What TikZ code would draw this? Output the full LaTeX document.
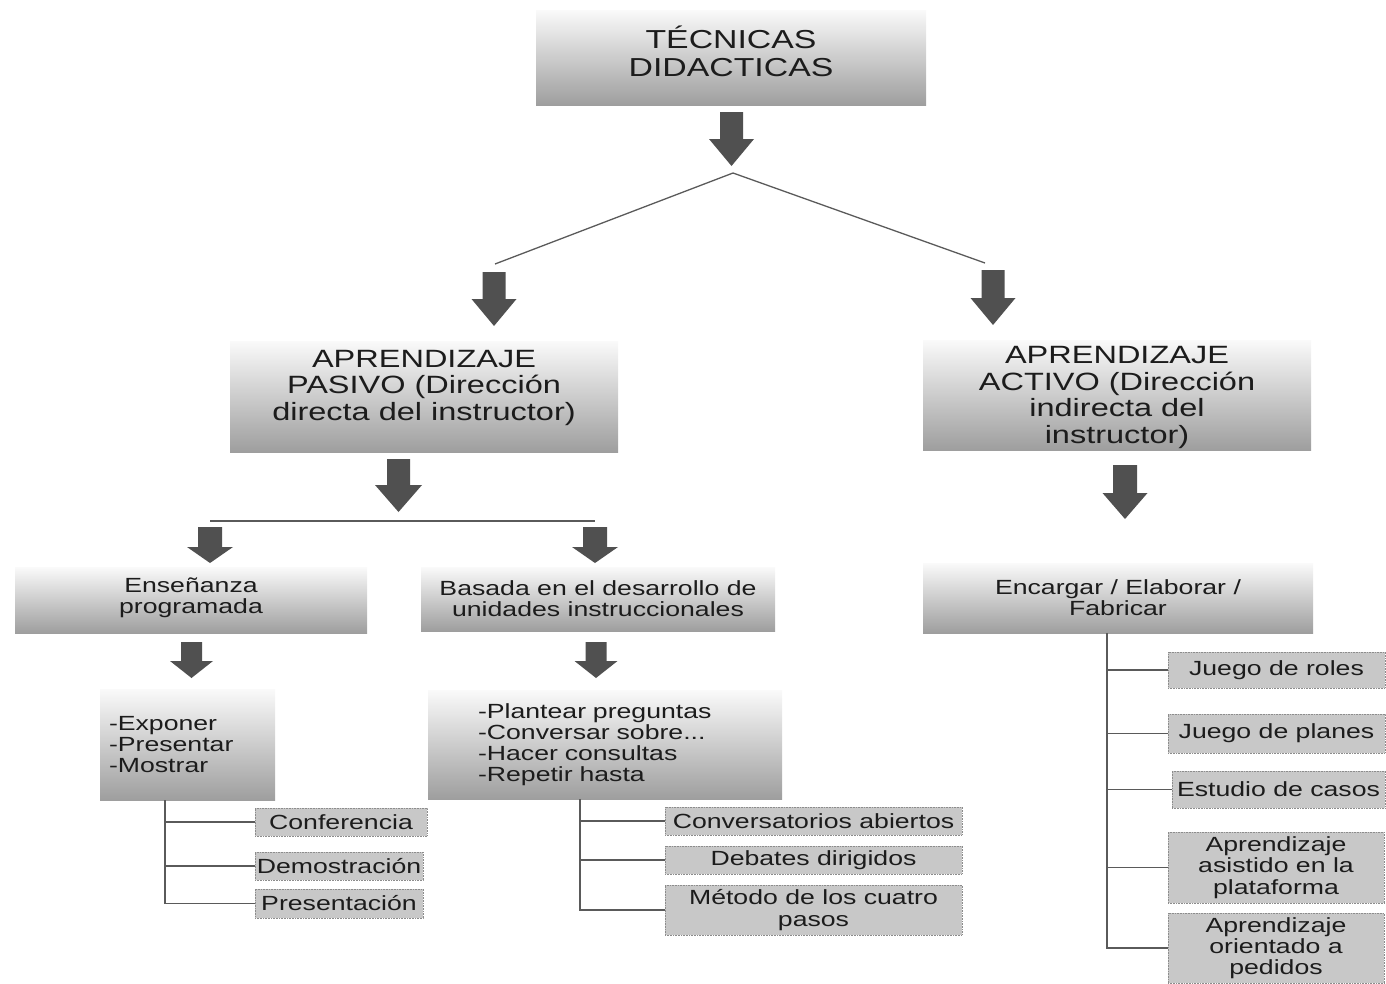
\documentclass[tikz,border=0pt]{standalone}
\usepackage{fontspec}
\setmainfont[FakeStretch=1.3]{Liberation Sans}
\definecolor{txtc}{HTML}{1C1C1C}
\definecolor{arrowc}{HTML}{505050}
\definecolor{leafc}{HTML}{C8C8C8}
\definecolor{linec}{HTML}{5A5A5A}
\newcommand\fontTitle{\fontsize{26}{28}\selectfont}
\newcommand\fontMid{\fontsize{25}{26.5}\selectfont}
\newcommand\fontSmall{\fontsize{20.5}{21.2}\selectfont}
% block arrow: name, cx, top, shaft width, head width, head top, tip
\newcommand\blockarrow[7]{%
  \fill[arrowc] ({#2-#4/2},#3) -- ({#2+#4/2},#3) -- ({#2+#4/2},#6) -- ({#2+#5/2},#6)
    -- (#2,#7) coordinate (#1) -- ({#2-#5/2},#6) -- ({#2-#4/2},#6) -- cycle;}
\begin{document}
\begin{tikzpicture}[x=1pt,y=-1pt,
  mainbox/.style={rectangle, inner sep=0pt, top color=black!2, bottom color=black!38,
    text=txtc, align=center},
  leaf/.style={rectangle, inner sep=0pt, fill=leafc, draw=black!45, densely dotted,
    line width=0.6pt, text=txtc, align=center, font=\fontSmall},
  conn/.style={draw=linec, line width=1.3pt},
  tree/.style={draw=linec, line width=1.3pt},
]
\useasboundingbox (0,0) rectangle (1386,983);

% main boxes
\node[mainbox, minimum width=390pt, minimum height=95pt, font=\fontTitle] (top) at (731,57.5)
  {\begin{tabular}{@{}c@{}}TÉCNICAS\\DIDACTICAS\\[5pt]\end{tabular}};
\node[mainbox, minimum width=388pt, minimum height=111pt, font=\fontMid] (pasivo) at (424,396.5)
  {\begin{tabular}{@{}c@{}}APRENDIZAJE\\PASIVO (Dirección\\directa del instructor)\\[16pt]\end{tabular}};
\node[mainbox, minimum width=388pt, minimum height=110pt, font=\fontMid] (activo) at (1117,395)
  {\begin{tabular}{@{}c@{}}APRENDIZAJE\\ACTIVO (Dirección\\indirecta del\\instructor)\\[-6pt]\end{tabular}};
\node[mainbox, minimum width=352pt, minimum height=66pt, font=\fontSmall] (ense) at (191,600)
  {\begin{tabular}{@{}c@{}}Enseñanza\\programada\\[3pt]\end{tabular}};
\node[mainbox, minimum width=354pt, minimum height=64pt, font=\fontSmall] (basada) at (598,599)
  {Basada en el desarrollo de\\unidades instruccionales};
\node[mainbox, minimum width=390pt, minimum height=70pt, font=\fontSmall] (encargar) at (1118,598)
  {Encargar / Elaborar /\\Fabricar};
\node[mainbox, minimum width=175pt, minimum height=111pt, font=\fontSmall, text width=157pt, align=left] (expo) at (187.5,744.5)
  {-Exponer\\-Presentar\\-Mostrar};
\node[mainbox, minimum width=354pt, minimum height=109pt, font=\fontSmall, text width=254pt, align=left] (plant) at (605,744.5)
  {-Plantear preguntas\\-Conversar sobre...\\-Hacer consultas\\-Repetir hasta};

% leaves
\node[leaf, minimum width=172pt, minimum height=28pt] (conf) at (341,822) {Conferencia};
\node[leaf, minimum width=168pt, minimum height=28pt] (demo) at (339,866) {Demostración};
\node[leaf, minimum width=168pt, minimum height=29pt] (pres) at (339,903.5) {Presentación};
\node[leaf, minimum width=297pt, minimum height=28pt] (conv) at (813.5,821) {Conversatorios abiertos};
\node[leaf, minimum width=297pt, minimum height=28pt] (deb) at (813.5,860) {Debates dirigidos};
\node[leaf, minimum width=297pt, minimum height=50pt] (met) at (813.5,910) {Método de los cuatro\\pasos};
\node[leaf, minimum width=217pt, minimum height=36pt] (roles) at (1276.5,670) {Juego de roles};
\node[leaf, minimum width=217pt, minimum height=39pt] (planes) at (1276.5,733.5) {Juego de planes};
\node[leaf, minimum width=213pt, minimum height=37pt] (casos) at (1278.5,789.5) {Estudio de casos};
\node[leaf, minimum width=216pt, minimum height=71pt] (asist) at (1276,867.5) {Aprendizaje\\asistido en la\\plataforma};
\node[leaf, minimum width=216pt, minimum height=70pt] (orient) at (1276,948) {Aprendizaje\\orientado a\\pedidos};

% block arrows
\blockarrow{a1}{731.5}{112}{23}{45}{139}{166}
\blockarrow{a2}{494}{272}{23}{45}{299}{326}
\blockarrow{a3}{993}{270}{23}{45}{298}{325}
\blockarrow{a4}{398.5}{459}{23}{47}{485}{512}
\blockarrow{a5}{210}{527}{24}{46}{547}{563}
\blockarrow{a6}{595}{527}{24}{46}{547}{563}
\blockarrow{a7}{1125}{465}{24}{45}{493}{519}
\blockarrow{a8}{191.5}{642}{21}{43}{661}{678}
\blockarrow{a9}{596}{642}{21}{43}{661}{678}

% branching lines
\coordinate (apex) at (733,173);
\coordinate (brL) at (495,264);
\coordinate (brR) at (985,263);
\draw[conn] (brL) -- (apex) -- (brR);
\coordinate (hL) at (210,521);
\coordinate (hR) at (595,521);
\draw[conn] (hL) -- (hR);

% trees
\coordinate (t1) at (165,0);
\coordinate (t2) at (580,0);
\coordinate (t3) at (1107,0);
\foreach \n in {conf,demo,pres} \draw[tree] (expo.south -| t1) |- (\n.west);
\foreach \n in {conv,deb,met} \draw[tree] (plant.south -| t2) |- (\n.west);
\foreach \n in {roles,planes,casos,asist,orient} \draw[tree] (encargar.south -| t3) |- (\n.west);
\end{tikzpicture}
\end{document}
